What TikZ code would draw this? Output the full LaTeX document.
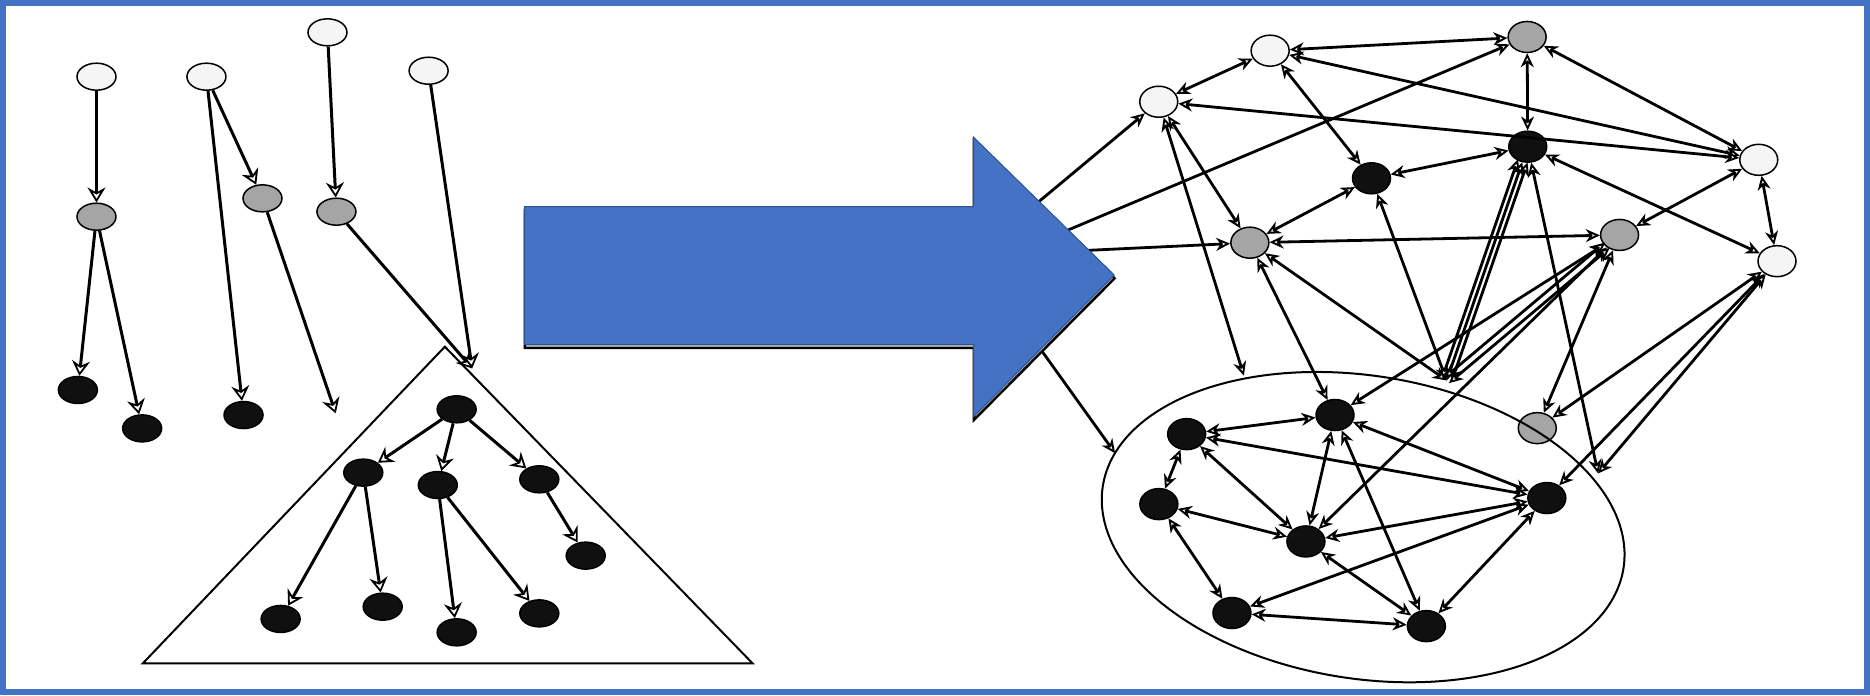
\documentclass[tikz,border=0pt]{standalone}
\usetikzlibrary{arrows.meta,calc,shapes.geometric}
\definecolor{bord}{HTML}{4472C4}
\definecolor{ablue}{HTML}{4472C4}
\definecolor{aedge}{HTML}{2F528F}
\definecolor{ngray}{HTML}{A5A5A5}
\definecolor{nwhite}{HTML}{F5F5F5}
\definecolor{nblack}{HTML}{101010}
\begin{document}
\begin{tikzpicture}[x=1.1926pt,y=-1.1926pt,
  vtx/.style={ellipse,draw=black,line width=1.5pt,minimum width=39pt,minimum height=27pt,inner sep=0pt},
  wv/.style={vtx,fill=nwhite},
  gv/.style={vtx,fill=ngray},
  bv/.style={vtx,fill=nblack},
  rv/.style={minimum width=38pt,minimum height=31pt},
  ledge/.style={line width=3pt,>={Stealth[length=15pt,width=18pt,inset=5pt,fill=white,line width=1.8pt]}},
  redge/.style={line width=2.8pt,>={Stealth[length=14pt,width=13pt,inset=4.5pt,fill=white,line width=1.9pt]}},
]
\useasboundingbox (0,0) rectangle (1568,582.76);
\fill[white] (0,0) rectangle (1568,582.76);

% ---------------- left part ----------------
\draw[line width=2pt] (373,290.7) -- (119.8,556.2) -- (631,556.2) -- cycle;

\node[wv] (W1) at (80.9,64.3) {};
\node[wv] (W2) at (173.1,64.3) {};
\node[wv] (W3) at (274.6,27.1) {};
\node[wv] (W4) at (359.4,59.3) {};
\node[gv] (G1) at (80.9,181.7) {};
\node[gv] (G2) at (220.1,166.3) {};
\node[gv] (G3) at (282.1,177.5) {};
\node[bv] (B1) at (65.3,327) {};
\node[bv] (B2) at (119.2,359.2) {};
\node[bv] (B3) at (204.2,348) {};
\coordinate (D) at (281.5,346.6);
\coordinate (A) at (395.9,308.9);
\node[bv] (T0) at (382.9,343.2) {};
\node[bv] (T1) at (304.6,396.3) {};
\node[bv] (T2) at (367.1,406.7) {};
\node[bv] (T3) at (452.2,401.9) {};
\node[bv] (T4) at (491.1,465.9) {};
\node[bv] (T5) at (235.3,519) {};
\node[bv] (T6) at (320.9,508.7) {};
\node[bv] (T7) at (382.9,530.2) {};
\node[bv] (T8) at (452.2,514.3) {};

\begin{scope}[ledge]
\draw[->] (W1) -- (G1);
\draw[->] (G1) -- (B1);
\draw[->] (G1) -- (B2);
\draw[->] (W2) -- (B3);
\draw[->] (W2) -- (G2);
\draw[->] (G2) -- (D);
\draw[->] (W3) -- (G3);
\draw[->] (G3) -- (A);
\draw[->] (W4) -- (A);
\draw[->] (T0) -- (T1);
\draw[->] (T0) -- (T2);
\draw[->] (T0) -- (T3);
\draw[->] (T3) -- (T4);
\draw[->] (T1) -- (T5);
\draw[->] (T1) -- (T6);
\draw[->] (T2) -- (T7);
\draw[->] (T2) -- (T8);
\end{scope}

% ---------------- right part ----------------
\node[wv,rv] (RW1) at (1065,42.5) {};
\node[gv,rv] (RG1) at (1280.5,31) {};
\node[wv,rv] (RW2) at (971.6,85.3) {};
\node[bv,rv] (RB1) at (1281,123) {};
\node[bv,rv] (RB2) at (1150,149.5) {};
\node[wv,rv] (RW3) at (1474.7,134) {};
\node[gv,rv] (RG2) at (1048,203.5) {};
\node[gv,rv] (RG3) at (1358,197) {};
\node[wv,rv] (RW4) at (1490,219) {};
\node[gv,rv] (RG4) at (1289,359) {};
\node[bv,rv] (E1) at (995,364) {};
\node[bv,rv] (E2) at (1119.4,348) {};
\node[bv,rv] (E3) at (971.7,422.7) {};
\node[bv,rv] (E4) at (1095,454) {};
\node[bv,rv] (E5) at (1297,417.6) {};
\node[bv,rv] (E6) at (1033,514) {};
\node[bv,rv] (E7) at (1196,525) {};
\coordinate (C) at (1213,319);
\coordinate (P1) at (1043,315);
\coordinate (P2) at (1340,397);
\coordinate (P3) at (935,380);
\coordinate (S1) at (861.2,177.3);
\coordinate (S2) at (886.2,196.8);
\coordinate (S3) at (904,210.3);
\coordinate (S4) at (866,283.7);

\begin{scope}[redge]
\draw[<->] (RW2) -- (RW1);
\draw[<->] (RW1) -- (RG1);
\draw[<->] (RW1) -- (RW3);
\draw[<->] (RW2) -- (RW3);
\draw[<->] (RG1) -- (RW3);
\draw[<->] (RG1) -- (RB1);
\draw[<->] (RW1) -- (RB2);
\draw[<->] (RB2) -- (RB1);
\draw[<->] (RB2) -- (RG2);
\draw[<->] (RW2) -- (RG2);
\draw[<->] (RW2) -- (P1);
\draw[<->] (RG2) -- (RG3);
\draw[<->] (RG3) -- (RW3);
\draw[<->] (RW3) -- (RW4);
\draw[<->] (RB1) -- (RW4);
\draw[<->] (RB2) -- (C);
\draw[<->] (RB1) -- (C);
\draw[<->,shorten <=15pt] ($(RB1)!5pt!90:(C)$) -- ($(C)!5pt!-90:(RB1)$);
\draw[<->,shorten <=15pt] ($(RB1)!5pt!-90:(C)$) -- ($(C)!5pt!90:(RB1)$);
\draw[<->] (RB1) -- (P2);
\draw[<->] (RG2) -- (E2);
\draw[<->] (RG2) -- (C);
\draw[<->] (RG3) -- (E2);
\draw[<->] (RG3) -- (E4);
\draw[<->,shorten <=16pt] ($(RG3)!3.5pt!90:(C)$) -- ($(C)!3.5pt!-90:(RG3)$);
\draw[<->,shorten <=16pt] ($(RG3)!3.5pt!-90:(C)$) -- ($(C)!3.5pt!90:(RG3)$);
\draw[<->] (RG3) -- (RG4);
\draw[<->] (RW4) -- (RG4);
\draw[<->] (RW4) -- (E5);
\draw[<->] (RW4) -- (P2);
\draw[->] (S1) -- (RW2);
\draw[->] (S2) -- (RG1);
\draw[->] (S3) -- (RG2);
\draw[->] (S4) -- (P3);
% inside the ellipse
\draw[<->] (E1) -- (E2);
\draw[<->] (E1) -- (E3);
\draw[<->] (E1) -- (E5);
\draw[<->] (E1) -- (E4);
\draw[<->] (E2) -- (E4);
\draw[<->] (E2) -- (E5);
\draw[<->] (E2) -- (E7);
\draw[<->] (E3) -- (E4);
\draw[<->] (E3) -- (E6);
\draw[<->] (E4) -- (E5);
\draw[<->] (E4) -- (E7);
\draw[<->] (E5) -- (E6);
\draw[<->] (E5) -- (E7);
\draw[<->] (E6) -- (E7);
\end{scope}

\draw[line width=2pt] plot[domain=0:357,samples=120,smooth cycle]
  ({1143+221*cos(\x)*cos(9)-127*sin(\x)*sin(9)},{442+221*cos(\x)*sin(9)+127*sin(\x)*cos(9)});

% ---------------- big arrow ----------------
\draw[line width=2.4pt,draw=black,fill=gray!55,shift={(0.3,2.8)}]
  (439.8,173.3) -- (816.3,173.3) -- (816.3,115) -- (934.3,230.6) -- (816.3,349.4) -- (816.3,289) -- (439.8,289) -- cycle;
\draw[line width=1pt,draw=aedge,fill=ablue]
  (439.8,173.3) -- (816.3,173.3) -- (816.3,115) -- (934.3,230.6) -- (816.3,349.4) -- (816.3,289) -- (439.8,289) -- cycle;

% ---------------- frame ----------------
\draw[line width=6pt,bord] (2.52,2.52) rectangle (1565.48,580.24);
\end{tikzpicture}
\end{document}
